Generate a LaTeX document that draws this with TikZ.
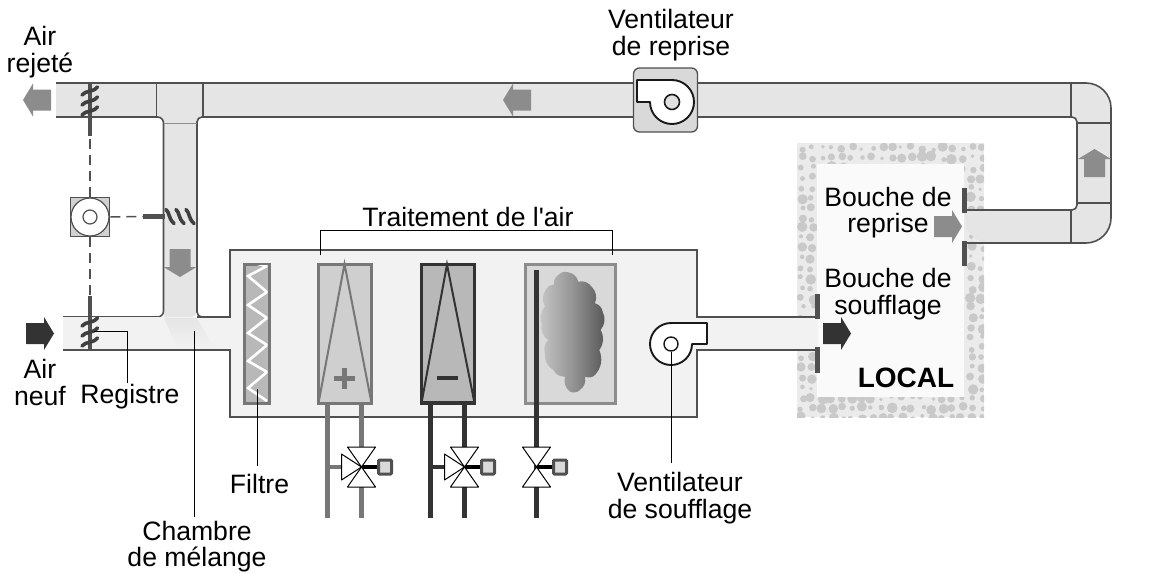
\documentclass[tikz,border=0pt]{standalone}
\usepackage{fontspec}
\setmainfont{Liberation Sans}
\newfontfamily\plainf{Liberation Sans}
\definecolor{linec}{HTML}{505050}
\definecolor{ductc}{HTML}{E5E5E5}
\definecolor{paleC}{HTML}{F2F2F2}
\definecolor{arrowgrey}{HTML}{8C8C8C}
\definecolor{arrowdark}{HTML}{333333}
\definecolor{hotc}{HTML}{777777}
\tikzset{
  x=1pt,y=-1pt,
  ductline/.style={draw=linec,line width=1.6pt},
  sepline/.style={draw=linec,line width=1.6pt},
  lab/.style={inner sep=0pt,align=center,text=black,font=\fontsize{26.6}{26.7}\selectfont},
  leader/.style={draw=black,line width=0.8pt},
  dampbar/.style={draw=linec,line width=4.5pt},
  dampslat/.style={draw=black!75,line width=3.6pt,line cap=round},
  dashlink/.style={draw=linec,line width=1.5pt,dash pattern=on 10pt off 6pt},
  grille/.style={fill=linec},
  fanline/.style={draw=black!90,line width=1.9pt,fill=white,line join=round},
  pics/flow/.style={code={\fill[#1] (0,-10.5)--(18,-10.5)--(18,-16.5)--(28,0)--(18,16.5)--(18,10.5)--(0,10.5)--cycle;}},
  pics/valve/.style={code={
    \draw[black,line width=4.5pt] (0,0)--(17,0);
    \draw[draw=linec,line width=3pt,fill=black!15,rounded corners=1pt] (17,-7)rectangle(30,7);
    \draw[black,line width=1pt,fill=white,line join=round] (-14,-20)--(14,-20)--(0,0)--cycle;
    \draw[black,line width=1pt,fill=white,line join=round] (-14,20)--(14,20)--(0,0)--cycle;
  }},
  pics/valveside/.style={code={
    \draw[black,line width=1pt,fill=white,line join=round] (-20,-13)--(-20,13)--(0,0)--cycle;
  }}
}
\begin{document}
\begin{tikzpicture}
\useasboundingbox (0,0) rectangle (1153,573);
\fill[white] (0,0) rectangle (1153,573);

% ---- LOCAL room
\fill[black!8] (797,143) rectangle (984,417);
\begin{scope}
\clip (797,143) rectangle (984,417);
\pgfmathsetseed{11}
\foreach \gx in {0,...,18}{
  \foreach \gy in {0,...,27}{
    \pgfmathtruncatemacro\inside{(\gx>=2 && \gx<=16 && \gy>=3 && \gy<=24)?1:0}
    \ifnum\inside=0
      \pgfmathsetmacro\cx{797+5+\gx*10+(rnd-.5)*4}
      \pgfmathsetmacro\cy{143+5+\gy*10+(rnd-.5)*4}
      \pgfmathsetmacro\cr{1.8+3.6*rnd}
      \fill[black!21] (\cx,\cy) circle[radius=\cr pt];
    \fi
  }
}
\end{scope}
\fill[black!2] (817,164) rectangle (964,397);

% ---- return duct network
\fill[ductc] (56,83)
  -- (1086,83) [rounded corners=25pt] -- (1111,83) -- (1111,243) -- (965,243) [sharp corners]
  -- (965,210) [rounded corners=5pt] -- (1077,210) -- (1077,117) -- (197,117) -- (197,317) [sharp corners]
  -- (163.5,317) [rounded corners=6pt] -- (163.5,117) [sharp corners] -- (56,117) -- cycle;
\path[ductline] (56,83) -- (1086,83) [rounded corners=25pt] -- (1111,83) -- (1111,243) -- (965,243);
\path[ductline] (965,210) [rounded corners=5pt] -- (1077,210) -- (1077,117) -- (197,117) -- (197,317) [sharp corners] -- (230,317);
\path[ductline] (56,117) [rounded corners=6pt] -- (163.5,117) -- (163.5,317) [sharp corners] -- (63,317);
\foreach \x in {156.5,203,1071}{\path[sepline] (\x,83)--(\x,117);}
\path[sepline] (1071,210)--(1071,243);
\path[sepline] (1077,123)--(1111,123);
\path[sepline] (1077,203)--(1111,203);
\draw[black!45,line width=.7pt] (163.5,123)--(197,123);

% ---- air handling unit body
\fill[paleC] (63,317) rectangle (230,350);
\fill[paleC] (230,250) rectangle (697,417);
\fill[paleC] (697,317) rectangle (818,350);
\path[ductline] (197,317)--(230,317)--(230,250)--(697,250)--(697,317)--(818,317);
\path[ductline] (63,350)--(230,350)--(230,417)--(697,417)--(697,350)--(818,350);
\shade[top color=ductc,bottom color=paleC] (164.3,317.8)--(196.2,317.8)--(214,347)--(176,347)--cycle;

% ---- grilles
\fill[grille] (962,188) rectangle (967,213);
\fill[grille] (962,241) rectangle (967,266);
\fill[grille] (815,294) rectangle (820,319);
\fill[grille] (815,347) rectangle (820,373);

% ---- dampers and actuator
\node[draw=linec,line width=1.8pt,fill=black!18,minimum size=39pt,inner sep=0pt] (act) at (90,217) {};
\node[draw=linec,line width=1.2pt,fill=white,circle,minimum size=38pt,inner sep=0pt] (actdisc) at (act.center) {};
\node[draw=linec,line width=1.2pt,fill=white,circle,minimum size=14pt,inner sep=0pt] (acthub) at (act.center) {};
\coordinate (dampA) at (90,136);
\coordinate (dampB) at (90,296);
\coordinate (dampC) at (143,216.5);
\draw[dashlink] (act.north)--(dampA);
\draw[dashlink] (act.south)--(dampB);
\draw[dashlink] (act.east)--(dampC);
\draw[dampbar] (dampA)--(90,83);
\draw[dampbar] (dampB)--(90,350);
\draw[dampbar] (dampC)--(165,216.5);
\foreach \y in {0,10,20}{
  \draw[dampslat] (82,95+\y) .. controls (86,90+\y) and (92,93+\y) .. (97.5,87+\y);
  \draw[dampslat] (82,326+\y) .. controls (86,321+\y) and (92,324+\y) .. (97.5,318+\y);
}
\foreach \x in {0,10,20}{
  \draw[dampslat] (166+\x,209.5) .. controls (170+\x,213) and (168+\x,218) .. (174+\x,223.5);
}

% ---- flow arrows
\pic[rotate=180] at (51,100) {flow=arrowgrey};
\pic[rotate=180] at (531,100) {flow=arrowgrey};
\pic[rotate=-90] at (180,249) {flow=arrowgrey};
\pic[rotate=90] at (1094.5,177) {flow=arrowgrey};
\pic at (934,226.5) {flow=arrowgrey};
\pic at (26,333.5) {flow=arrowdark};
\pic at (823,333.5) {flow=arrowdark};

% ---- return fan
\node[draw=linec,line width=1.3pt,fill=black!15,rounded corners=6pt,minimum size=64pt,inner sep=0pt] (retbox) at (665.5,100) {};
\draw[fanline] (637,80)--(672,80) arc[start angle=90,end angle=-180,radius=22pt] --(637,102)--cycle;
\node[draw=black!90,line width=1.6pt,fill=black!12,circle,minimum size=15pt,inner sep=0pt] (rethub) at (672,102) {};

% ---- supply fan
\draw[fanline] (671,323)--(707,323)--(707,344)--(692,344) arc[start angle=0,end angle=-270,radius=21pt] --cycle;
\node[draw=black!90,line width=1.4pt,fill=white,circle,minimum size=14pt,inner sep=0pt] (suphub) at (671,344) {};

% ---- filter
\draw[hotc,line width=3pt,fill=black!28] (244.5,264) rectangle (269,403);
\begin{scope}
\clip (246,265.5) rectangle (267.5,401.5);
\draw[white,line width=2.6pt,line join=miter] (258,264)--(267,266)--(248,276)--(267,292)--(248,305)--(267,318)--(248,333)--(267,345)--(248,361)--(267,372)--(248,388)--(267,401);
\end{scope}

% ---- coils
\draw[hotc,line width=3pt,fill=black!19] (318.5,264) rectangle (371.5,403);
\draw[hotc,line width=2pt] (318.5,403)--(344.5,264)--(371.5,403);
\draw[hotc,line width=5pt] (334,378)--(355,378) (344.5,367.5)--(344.5,388.5);
\draw[arrowdark,line width=3.5pt,fill=black!28] (421.5,264.5) rectangle (474.5,403);
\draw[arrowdark,line width=2pt] (421.5,403)--(447,264.5)--(474.5,403);
\draw[arrowdark,line width=4.5pt] (437,378)--(458,378);
\draw[arrowgrey,line width=3pt,fill=black!15] (525.5,264) rectangle (615.5,403);

% ---- humidifier cloud
\begin{scope}[shift={(230,240)},x=0.3333pt,y=-0.3333pt]
\shade[left color=black!22,right color=black!66,middle color=black!42,bend right=32]
  (1015,97) to (985,105) to (972,135) to (950,145) to (945,200) to (935,250) to (955,300) to (945,340) to (970,390) to (1005,410) to (1020,455) to (1050,450) to (1065,410) to (1095,405) to (1108,330) to (1112,270) to (1118,215) to (1095,190) to (1085,140) to (1045,125) to (1015,97) -- cycle;
\end{scope}

% ---- water pipes
\draw[hotc,line width=5pt] (327.5,404)--(327.5,518) (361.5,404)--(361.5,518);
\draw[hotc,line width=3.5pt] (327.5,467)--(345,467);
\draw[arrowdark,line width=5pt] (430.5,404)--(430.5,518) (464.5,404)--(464.5,518);
\draw[arrowdark,line width=3.5pt] (430.5,467)--(448,467);
\draw[arrowdark,line width=4.5pt] (536.5,270)--(536.5,518);
\pic at (361.5,467) {valve};
\pic at (361.5,467) {valveside};
\pic at (464.5,467) {valve};
\pic at (464.5,467) {valveside};
\pic at (536.5,467) {valve};

% ---- labels
\node[lab] (lrej) at (40,52) {Air\\rejeté};
\node[lab] (lret) at (671,35) {Ventilateur\\de reprise};
\node[lab] (lneuf) at (40,382.5) {Air\\neuf};
\node[lab] (lreg) at (130,396.5) {Registre};
\node[lab] (lfil) at (259.5,484) {Filtre};
\node[lab] (lcha) at (197,546.5) {Chambre\\de mélange};
\node[lab] (lsou) at (680,498) {Ventilateur\\de soufflage};
\node[lab] (ltra) at (468,217) {{\plainf Traitement de l'air}};
\node[lab] (lbr) at (888,212.5) {Bouche de\\reprise};
\node[lab] (lbs) at (888,294) {Bouche de\\soufflage};
\node[lab,font=\fontsize{28}{29}\bfseries\selectfont] (lloc) at (906,377.5) {LOCAL};

% ---- leaders
\coordinate (tregA) at (94,331.5);
\coordinate (tregB) at (127.5,383);
\coordinate (tchaA) at (194,331);
\coordinate (tchaB) at (194,517);
\coordinate (tfilA) at (257.5,389);
\coordinate (tfilB) at (257.5,466);
\coordinate (tfanB) at (671,463);
\coordinate (ttrA) at (320.5,255);
\coordinate (ttrB) at (320.5,230);
\coordinate (ttrC) at (612.5,230);
\coordinate (ttrD) at (612.5,255);
\path[leader] (tregA)-|(tregB);
\path[leader] (tchaA)--(tchaB);
\path[leader] (tfilA)--(tfilB);
\path[leader] (suphub.south)--(tfanB);
\path[leader] (ttrA)--(ttrB)--(ttrC)--(ttrD);
\end{tikzpicture}
\end{document}
